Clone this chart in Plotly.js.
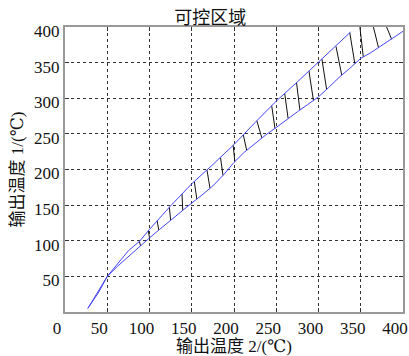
<!DOCTYPE html>
<html>
<head>
<meta charset="utf-8">
<script src="https://cdn.plot.ly/plotly-3.0.1.min.js"></script>
<style>html,body{margin:0;padding:0;background:#fff;}#chart{width:409px;height:356px;}</style>
</head>
<body>
<div id="chart"></div>
<script>
// Upper boundary of the controllable region
var upperX = [27, 40, 50, 62, 75, 88, 100, 125, 150, 175, 200, 225, 250, 275, 300, 320, 338];
var upperY = [5, 28, 50, 68, 86, 99, 116, 149, 180, 207, 235, 266, 296, 323, 351, 372, 393];
// Lower boundary of the controllable region
var lowerX = [27, 40, 50, 62, 75, 88, 100, 112, 125, 137, 150, 162, 175, 188, 200, 212, 225, 237, 250, 262, 275, 287, 300, 312, 325, 337, 350, 362, 375, 387, 400];
var lowerY = [5, 30, 50, 64, 78, 91, 104, 116, 129, 141, 153, 164, 177, 193, 210, 224, 237, 248, 259, 270, 281, 291, 302, 315, 330, 342, 356, 364, 374, 383, 394];
// Hatch segments (top end on upper boundary / top edge, bottom end on lower boundary)
var hatchX1 = [88, 98.6, 109, 123.5, 138.5, 153, 168, 184, 199, 211, 227, 244.6, 260, 274, 288.7, 304, 320.7, 337, 349, 365, 380.6];
var hatchY1 = [99, 114, 127.9, 147, 165.7, 183.2, 199.4, 217, 233.9, 248.6, 268.4, 289.5, 306.8, 321.9, 338.3, 355.2, 372.8, 392, 400, 400, 400];
var hatchX2 = [89.5, 100, 111, 125, 139.3, 156, 171.6, 187, 201, 215, 233, 248.5, 264, 278, 294, 309.6, 327.5, 343, 353, 371, 386.6];
var hatchY2 = [92.6, 104, 115, 129, 143.1, 158.5, 173.6, 191.8, 211.2, 227, 244.3, 257.7, 271.8, 283.5, 296.9, 312.4, 332.5, 348.5, 358, 370.9, 382.7];

var xTicks = [0, 50, 100, 150, 200, 250, 300, 350, 400];
var yTicks = [50, 100, 150, 200, 250, 300, 350, 400];

var hx = [], hy = [];
for (var i = 0; i < hatchX1.length; i++) {
  hx.push(hatchX1[i], hatchX2[i], null);
  hy.push(hatchY1[i], hatchY2[i], null);
}

var blue = 'rgb(70,70,245)';
var traces = [
  {x: hx, y: hy, mode: 'lines', line: {color: '#111', width: 1}, hoverinfo: 'skip', connectgaps: false},
  {x: upperX, y: upperY, mode: 'lines', line: {color: blue, width: 1}},
  {x: lowerX, y: lowerY, mode: 'lines', line: {color: blue, width: 1}}
];

var fontSerif = 'Times New Roman, Liberation Serif, DejaVu Serif, Noto Sans CJK SC, serif';
var axisCommon = {
  showgrid: true, gridcolor: '#333', griddash: 'dot', gridwidth: 1,
  zeroline: false, showline: true, linecolor: '#999', linewidth: 2, mirror: 'ticks',
  ticks: 'inside', ticklen: 4, tickcolor: '#333',
  tickfont: {family: fontSerif, size: 17, color: '#111'}
};

var layout = {
  width: 409, height: 356,
  margin: {l: 65, r: 6, t: 27, b: 44},
  paper_bgcolor: '#fff', plot_bgcolor: '#fff',
  showlegend: false,
  title: {text: '可控区域', x: 0.514, xanchor: 'center', y: 0.951, yanchor: 'middle',
          font: {family: fontSerif, size: 18, color: '#111'}},
  xaxis: Object.assign({}, axisCommon, {
    range: [0, 400], tickvals: xTicks, ticktext: xTicks.map(String),
    ticklabelshift: -8, ticklabeloverflow: 'allow',
    title: {text: '输出温度 2/(℃)', standoff: 2, font: {family: fontSerif, size: 17, color: '#111'}}
  }),
  yaxis: Object.assign({}, axisCommon, {
    range: [0, 400], tickvals: yTicks, ticktext: yTicks.map(String),
    ticklabelshift: 4, ticklabeloverflow: 'allow',
    title: {text: '输出温度 1/(℃)', standoff: 6, font: {family: fontSerif, size: 17, color: '#111'}}
  })
};

Plotly.newPlot('chart', traces, layout, {displayModeBar: false, staticPlot: true});
</script>
</body>
</html>
